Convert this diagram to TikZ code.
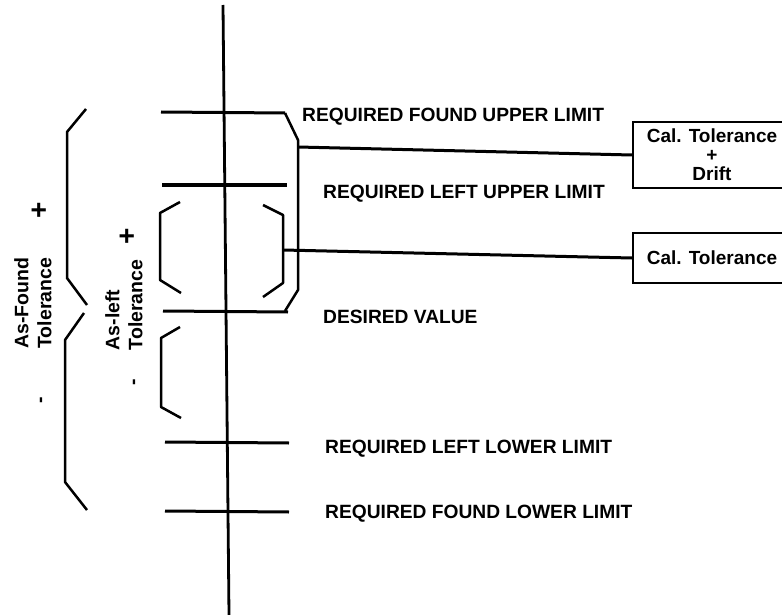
\documentclass[tikz,border=0pt]{standalone}
\usepackage{fontspec}
\setmainfont{Liberation Sans}
\begin{document}
\begin{tikzpicture}[x=1pt,y=-1pt,
  lim/.style={line width=3pt},
  brk/.style={line width=2.5pt, line join=round},
  lbl/.style={font=\bfseries\fontsize{19.2}{23}\selectfont, anchor=base west, inner sep=0pt},
  rlbl/.style={font=\bfseries\fontsize{19.5}{23}\selectfont, rotate=90, align=left, inner sep=0pt},
  sgn/.style={font=\bfseries\fontsize{28}{28}\selectfont, rotate=90, inner sep=0pt},
  calbox/.style={draw, line width=2.4pt, minimum width=158pt, inner sep=0pt, align=center,
    font=\bfseries\fontsize{19}{19}\selectfont}]
\useasboundingbox (0,0) rectangle (782,615);

% main axis
\draw[line width=2.8pt] (223,5) -- (229,615);

% limit lines
\draw[lim] (161,112) -- (285,113);
\draw[lim] (162,185) -- (287,185);
\draw[lim] (163,311) -- (288,312);
\draw[lim] (165,442) -- (289,443);
\draw[lim] (165,511) -- (289,512);

% As-Found brackets
\draw[brk] (86,109) -- (67,132) -- (67,278) -- (87,305);
\draw[brk] (84,313) -- (65,340) -- (65,482) -- (87,510);
% As-left brackets
\draw[brk] (180,202) -- (160,213) -- (160,280) -- (181,293);
\draw[brk] (180,327) -- (161,338) -- (161,407) -- (181,418);
% right brackets
\draw[brk] (285,113) -- (298,140) -- (298,290) -- (285,311);
\draw[brk] (263,205) -- (283,215) -- (283,283) -- (263,297);

% labels
\node[lbl] (t1) at (302,122) {REQUIRED FOUND UPPER LIMIT};
\node[lbl] (t2) at (323,198) {REQUIRED LEFT UPPER LIMIT};
\node[lbl] (t3) at (323,323) {DESIRED VALUE};
\node[lbl] (t4) at (325,453) {REQUIRED LEFT LOWER LIMIT};
\node[lbl] (t5) at (325,518) {REQUIRED FOUND LOWER LIMIT};

% rotated tolerance labels
\node[rlbl] (af) at (33,303) {As-Found\\Tolerance};
\node[rlbl] (al) at (124,305) {As-left\\Tolerance};
\node[sgn] (afp) at (40,210) {+};
\node[rlbl] (afm) at (43,400) {-};
\node[sgn] (alp) at (128,236) {+};
\node[rlbl] (alm) at (136,382) {-};

% boxes
\node[calbox, minimum height=66pt] (b1) at (712,155) {Cal. Tolerance\\+\\Drift};
\node[calbox, minimum height=50pt] (b2) at (712,258) {Cal. Tolerance};

% connectors
\coordinate (c1) at (298,147);
\coordinate (c2) at (283,250);
\draw[lim] (c1) -- (b1.west);
\draw[lim] (c2) -- (b2.west);
\end{tikzpicture}
\end{document}
